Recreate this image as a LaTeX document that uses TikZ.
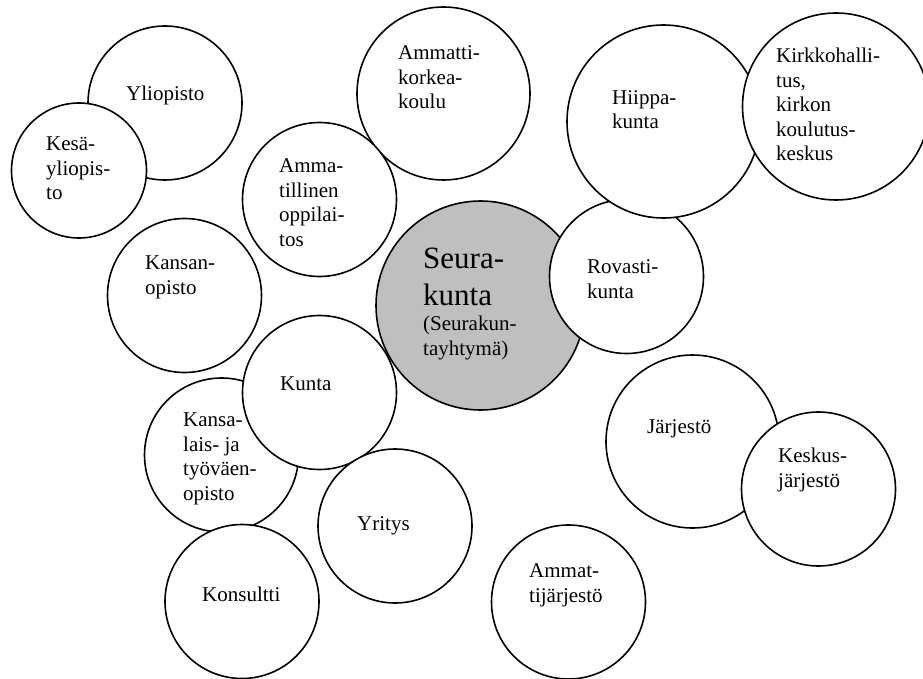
\documentclass[tikz,border=0pt]{standalone}
\usepackage{fontspec}
\setmainfont{Liberation Serif}
\usepackage{tikz}
\usetikzlibrary{positioning}

\begin{document}
\begin{tikzpicture}[
    x=1pt, y=-1pt,
    bubble/.style={circle, draw, line width=1.6pt, fill=white, inner sep=0pt, minimum size=154pt},
    big/.style={minimum size=#1},
    lbl/.style={anchor=base west, align=left, inner sep=0pt, font=\fontsize{21}{24.5}\selectfont},
    lblbig/.style={anchor=base west, align=left, inner sep=0pt, font=\fontsize{31}{37}\selectfont}
]
    \useasboundingbox (0,0) rectangle (923,679);

    % Universities
    \node[bubble] (yli) at (165, 103) {};
    \node[bubble, big=135pt] (kesa) at (79, 170.5) {};
    \node[bubble, big=173pt] (akk) at (443.5, 93.5) {};
    \node[bubble] (amm) at (319.5, 199.5) {};

    % Church
    \node[bubble, big=209pt, fill=black!25] (seura) at (480.5, 305.5) {};
    \node[bubble] (rov) at (626.5, 276.5) {};
    \node[bubble, big=193pt] (hiippa) at (663.5, 121.5) {};
    \node[bubble, big=187pt] (kirkko) at (836, 106.5) {};

    % Municipality
    \node[bubble] (kansan) at (184.5, 295.5) {};
    \node[bubble] (kansal) at (221.5, 455) {};
    \node[bubble] (kunta) at (319.5, 392.5) {};
    \node[bubble] (kons) at (242, 601.5) {};
    \node[bubble] (yritys) at (395, 526) {};

    % Organisations
    \node[bubble, big=173pt] (jarj) at (692.5, 441.5) {};
    \node[bubble] (keskus) at (818.5, 489) {};
    \node[bubble] (amjar) at (568.5, 602) {};

    % Texts (placed at the baseline of their last line)
    \node[lbl] (t-yli) at (126, 101) {Yliopisto};
    \node[lbl] (t-kesa) at (46, 200) {Kesä-\\yliopis-\\to};
    \node[lbl] (t-akk) at (398, 109) {Ammatti-\\korkea-\\koulu};
    \node[lbl] (t-amm) at (279, 246) {Amma-\\tillinen\\oppilai-\\tos};
    \node[lblbig] (t-seura) at (423, 305) {Seura-\\kunta};
    \node[lbl] (t-seura2) at (423, 355) {(Seurakun-\\tayhtymä)};
    \node[lbl] (t-rov) at (587, 298) {Rovasti-\\kunta};
    \node[lbl] (t-hiippa) at (612, 129) {Hiippa-\\kunta};
    \node[lbl] (t-kirkko) at (776, 161) {Kirkkohalli-\\tus,\\kirkon\\koulutus-\\keskus};
    \node[lbl] (t-kansan) at (145, 294) {Kansan-\\opisto};
    \node[lbl] (t-kansal) at (183, 500) {Kansa-\\lais- ja\\työväen-\\opisto};
    \node[lbl] (t-kunta) at (280, 390) {Kunta};
    \node[lbl] (t-kons) at (202, 601) {Konsultti};
    \node[lbl] (t-yritys) at (357, 530) {Yritys};
    \node[lbl] (t-jarj) at (647, 433) {Järjestö};
    \node[lbl] (t-keskus) at (778, 487) {Keskus-\\järjestö};
    \node[lbl] (t-amjar) at (529, 602) {Ammat-\\tijärjestö};
\end{tikzpicture}
\end{document}
